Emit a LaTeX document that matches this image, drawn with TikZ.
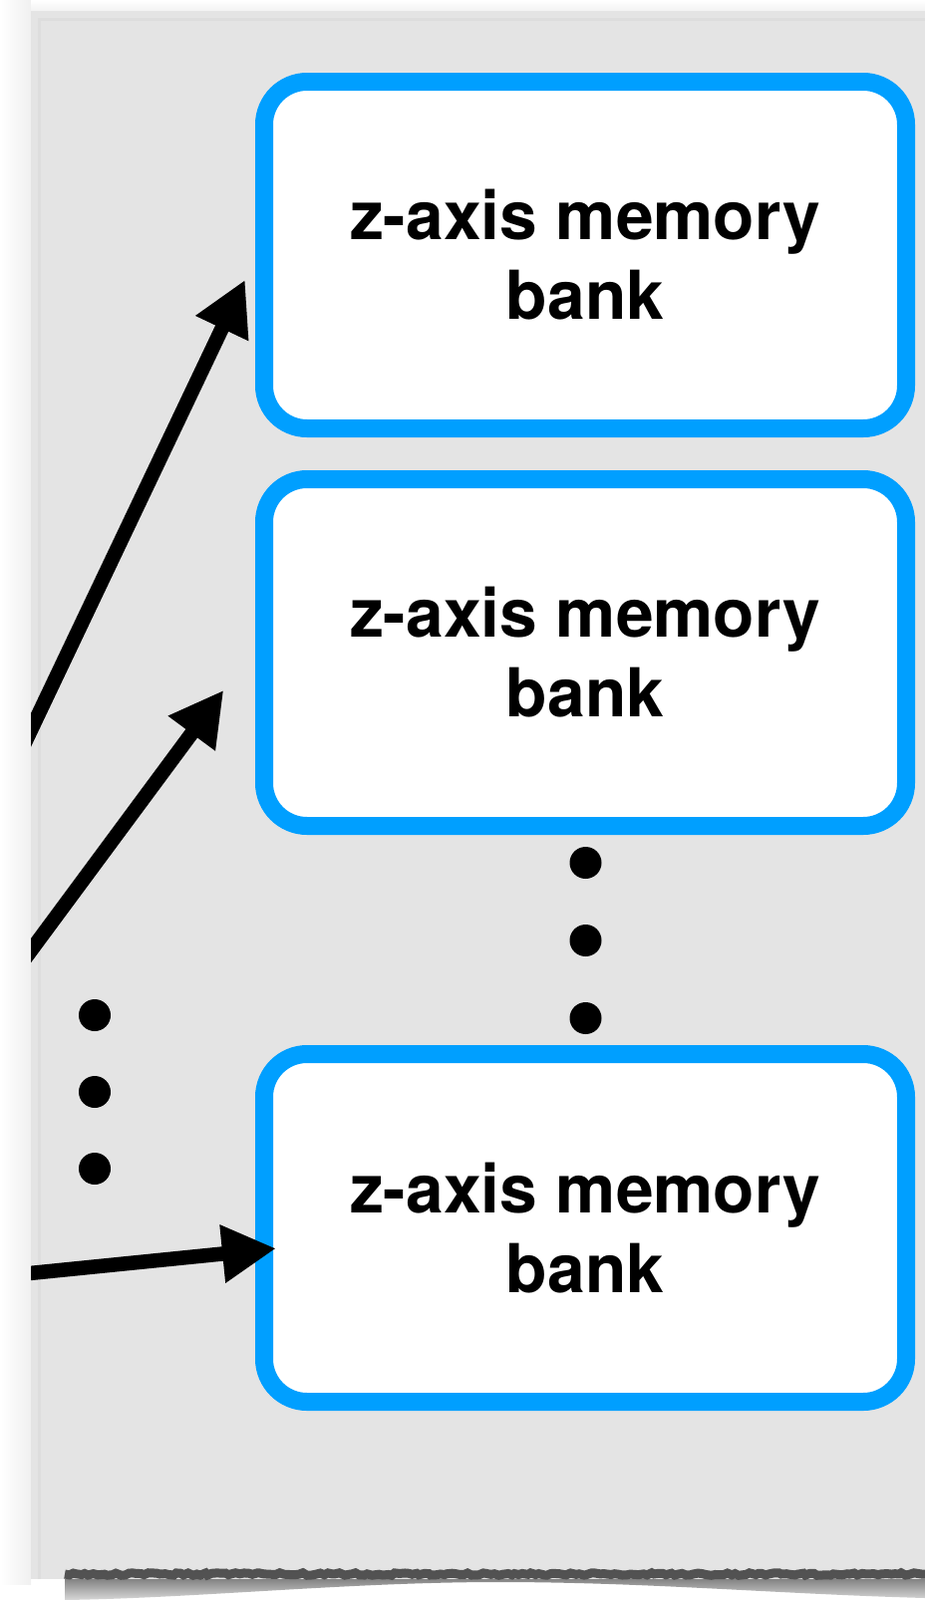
\documentclass[tikz,border=0pt]{standalone}
\usepackage{fontspec}
\setmainfont{TeX Gyre Heros}
\usetikzlibrary{arrows.meta,calc,decorations.pathmorphing}
\definecolor{bankblue}{RGB}{0,159,255}
\definecolor{panelgray}{RGB}{228,228,228}
\definecolor{paneledge}{RGB}{221,221,221}
\newcommand{\bankfont}{\fontsize{67.7}{80}\selectfont\bfseries}
\begin{document}
\begin{tikzpicture}[x=1pt,y=-1pt,
  bankbox/.style={draw=bankblue, line width=18pt, fill=white, rounded corners=43pt,
    minimum width=644pt, minimum height=348pt, inner sep=0pt, align=center, font=\bankfont},
  arr/.style={line width=14.5pt, shorten >=-9pt, -{Triangle[length=54pt,width=55pt]}},
  dotnode/.style={circle, fill=black, minimum size=32pt, inner sep=0pt}]
\useasboundingbox (0,0) rectangle (928,1606);
% soft shadows around the sheet
\shade[left color=white, right color=black!6] (0,0) rectangle (31,1590);
\shade[top color=white, bottom color=black!5] (31,0) rectangle (928,11);
% curled bottom shadow
\shade[top color=black!60, bottom color=black!15]
  (65,1578) -- (928,1578) -- (928,1604)
  .. controls (780,1600) and (650,1588) .. (500,1588)
  .. controls (350,1588) and (200,1604) .. (65,1606) -- cycle;
% the sheet
\fill[panelgray] (31,11) rectangle (928,1585);
\draw[paneledge, line width=3pt] (39,1585) -- (39,19) -- (928,19);
\draw[black!68, line width=9pt, decorate,
  decoration={random steps, segment length=4pt, amplitude=1.3pt}] (65,1580) -- (928,1580);
% memory banks
\node[bankbox] (b1) at (587,256) {z-axis memory\\bank};
\node[bankbox] (b2) at (587,655) {z-axis memory\\bank};
\node[bankbox, minimum height=349pt] (b3) at (587,1232.5) {z-axis memory\\bank};
% ellipsis dots
\node[dotnode] (d1) at (587.5,866) {};
\node[dotnode] (d2) at (587.5,944) {};
\node[dotnode] (d3) at (587.5,1022) {};
\node[dotnode] (d4) at (95,1019) {};
\node[dotnode] (d5) at (95,1096) {};
\node[dotnode] (d6) at (95,1173) {};
% incoming connectors (cut by the sheet edge)
\coordinate (s1) at (20,756);
\coordinate (s2) at (20,969);
\coordinate (s3) at (20,1279);
\begin{scope}
  \clip (31,11) rectangle (928,1585);
  \draw[arr] (s1) -- ($(b1.west)+(-14,33)$);
  \draw[arr] (s2) -- ($(b2.west)+(-37,45)$);
  \draw[arr] (s3) -- ($(b3.west)+(12,21.5)$);
\end{scope}
\end{tikzpicture}
\end{document}
